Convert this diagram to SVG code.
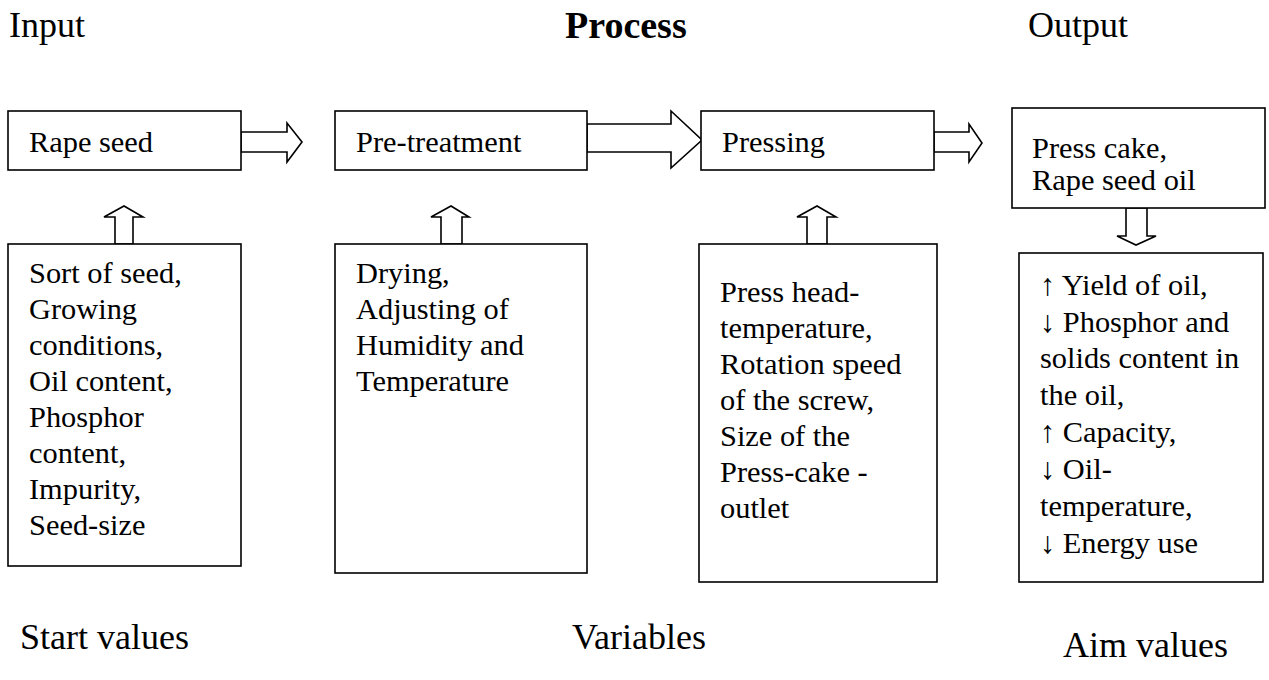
<svg xmlns="http://www.w3.org/2000/svg" width="1269" height="680" viewBox="0 0 1269 680" font-family="'Liberation Serif', 'Times New Roman', Times, 'DejaVu Serif', serif">
<style>
.box{fill:#fff;stroke:#000;stroke-width:1.6}
.arr{fill:#fff;stroke:#000;stroke-width:1.6;stroke-linejoin:miter}
text{font-family:'Liberation Serif','Times New Roman',Times,'DejaVu Serif',serif;fill:#000}
.h{font-size:36px}
.t{font-size:30.4px}
.b{font-size:38px;font-weight:bold}
</style>
<rect width="1269" height="680" fill="#fff"/>
<g id="labels">
<text class="h" x="9" y="37">Input</text>
<text class="b" x="565" y="38">Process</text>
<text class="h" x="1028" y="37">Output</text>
<text class="h" x="20" y="649">Start values</text>
<text class="h" x="572" y="649">Variables</text>
<text class="h" x="1063" y="657">Aim values</text>
</g>
<g id="connectors">
<polygon class="arr" points="241,132 287,132 287,123 302,142 287,162 287,152 241,152"/>
<polygon class="arr" points="587,124 671,124 671,111 702,140 671,168 671,152 587,152"/>
<polygon class="arr" points="934,132 969,132 969,124 982,143 969,162 969,152 934,152"/>
<polygon class="arr" points="115,244 115,217 104,217 124,206 143,217 133,217 133,244"/>
<polygon class="arr" points="441,244 441,217 431,217 451,206 469,217 462,217 462,244"/>
<polygon class="arr" points="807,244 807,217 797,217 817,206 836,217 827,217 827,244"/>
<polygon class="arr" points="1126,208 1126,236 1117,236 1136,245 1156,236 1147,236 1147,208"/>
</g>
<g id="rape-seed">
<rect class="box" x="8" y="111" width="233" height="59"/>
<text class="t" x="29" y="152">Rape seed</text>
</g>
<g id="pre-treatment">
<rect class="box" x="335" y="111" width="252" height="59"/>
<text class="t" x="356" y="152">Pre-treatment</text>
</g>
<g id="pressing">
<rect class="box" x="701" y="111" width="233" height="59"/>
<text class="t" x="722" y="152">Pressing</text>
</g>
<g id="output">
<rect class="box" x="1012" y="108" width="253" height="100"/>
<text class="t" x="1032" y="158">Press cake,</text>
<text class="t" x="1032" y="190">Rape seed oil</text>
</g>
<g id="start-values">
<rect class="box" x="8" y="244" width="233" height="322"/>
<text class="t" x="29" y="283">Sort of seed,</text>
<text class="t" x="29" y="319">Growing</text>
<text class="t" x="29" y="355">conditions,</text>
<text class="t" x="29" y="391">Oil content,</text>
<text class="t" x="29" y="427">Phosphor</text>
<text class="t" x="29" y="463">content,</text>
<text class="t" x="29" y="499">Impurity,</text>
<text class="t" x="29" y="535">Seed-size</text>
</g>
<g id="pretreatment-variables">
<rect class="box" x="335" y="244" width="252" height="329"/>
<text class="t" x="356" y="283">Drying,</text>
<text class="t" x="356" y="319">Adjusting of</text>
<text class="t" x="356" y="355">Humidity and</text>
<text class="t" x="356" y="391">Temperature</text>
</g>
<g id="pressing-variables">
<rect class="box" x="699" y="244" width="238" height="338"/>
<text class="t" x="720" y="302">Press head-</text>
<text class="t" x="720" y="338">temperature,</text>
<text class="t" x="720" y="374">Rotation speed</text>
<text class="t" x="720" y="410">of the screw,</text>
<text class="t" x="720" y="446">Size of the</text>
<text class="t" x="720" y="482">Press-cake -</text>
<text class="t" x="720" y="518">outlet</text>
</g>
<g id="aim-values">
<rect class="box" x="1019" y="253" width="244" height="329"/>
<text class="t" x="1040" y="295">↑ Yield of oil,</text>
<text class="t" x="1040" y="332">↓ Phosphor and</text>
<text class="t" x="1040" y="368">solids content in</text>
<text class="t" x="1040" y="405">the oil,</text>
<text class="t" x="1040" y="442">↑ Capacity,</text>
<text class="t" x="1040" y="479">↓ Oil-</text>
<text class="t" x="1040" y="516">temperature,</text>
<text class="t" x="1040" y="553">↓ Energy use</text>
</g>
</svg>
